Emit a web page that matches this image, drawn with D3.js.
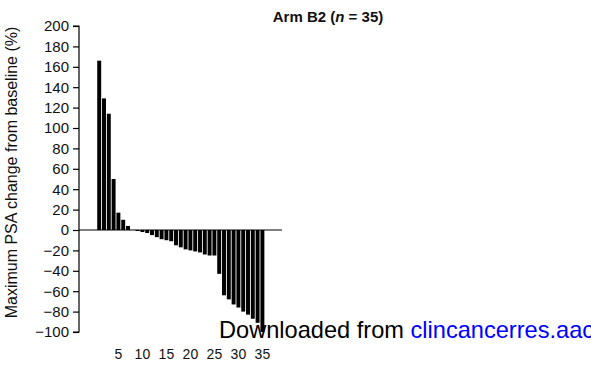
<!DOCTYPE html>
<html>
<head>
<meta charset="utf-8">
<script src="https://cdn.jsdelivr.net/npm/d3@7"></script>
<style>
  html, body { margin: 0; padding: 0; background: #fff; }
  svg { display: block; font-family: "Liberation Sans", Arial, Helvetica, sans-serif; }
</style>
</head>
<body>
<svg id="chart" width="591" height="365"></svg>
<script>
// Data
const patients = d3.range(1, 36);
const psaChange = [166, 129, 114, 50, 17, 10, 4, 0, -1, -2, -3, -5, -7, -9, -10, -11, -15, -17, -19, -20, -21, -22, -24, -25, -25, -43, -64, -68, -73, -76, -80, -83, -87, -91, -100];
const yTicks = [200, 180, 160, 140, 120, 100, 80, 60, 40, 20, 0, -20, -40, -60, -80, -100];
const xTickLabels = [5, 10, 15, 20, 25, 30, 35];

const svg = d3.select("#chart");

const x = d3.scaleBand().domain(patients).range([96.8, 264.8]).paddingInner(0.18).paddingOuter(0.09);
const y = d3.scaleLinear().domain([-100, 200]).range([332, 26]);

const axisX = 79;

// Y axis
const yAxis = d3.axisLeft(y).tickValues(yTicks).tickSize(6).tickPadding(4)
  .tickFormat(d => d < 0 ? "\u2212" + Math.abs(d) : d);
const gy = svg.append("g").attr("transform", `translate(${axisX},0)`).call(yAxis);
gy.select(".domain").attr("stroke", "#000").attr("stroke-width", 1.2).attr("d", `M-6,${y(200)}H0V${y(-100)}H-6`);
gy.selectAll(".tick line").attr("stroke", "#000").attr("stroke-width", 1.2);
gy.selectAll(".tick text").attr("fill", "#111").style("font-size", "15px").style("font-family", "'Liberation Sans', Arial, sans-serif");

// Bars
svg.append("g").selectAll("rect").data(patients).join("rect")
  .attr("x", d => x(d))
  .attr("width", x.bandwidth())
  .attr("y", (d, i) => y(Math.max(0, psaChange[i])))
  .attr("height", (d, i) => Math.abs(y(psaChange[i]) - y(0)))
  .attr("fill", "#000");

// Zero line
svg.append("line")
  .attr("x1", axisX).attr("x2", 282)
  .attr("y1", y(0)).attr("y2", y(0))
  .attr("stroke", "#000").attr("stroke-width", 1.2);

// X tick labels
svg.append("g").selectAll("text").data(xTickLabels).join("text")
  .attr("x", d => x(d) + x.bandwidth() / 2)
  .attr("y", 359)
  .attr("text-anchor", "middle")
  .style("font-size", "14px")
  .attr("fill", "#111")
  .text(d => d);

// Y axis title
svg.append("text")
  .attr("transform", `translate(17,${(20 + 325) / 2}) rotate(-90)`)
  .attr("text-anchor", "middle")
  .style("font-size", "16px")
  .attr("fill", "#111")
  .text("Maximum PSA change from baseline (%)");

// Title
const title = svg.append("text")
  .attr("x", 328).attr("y", 22)
  .attr("text-anchor", "middle")
  .style("font-size", "15px")
  .style("font-weight", "bold")
  .attr("fill", "#111");
title.append("tspan").text("Arm B2 (");
title.append("tspan").style("font-style", "italic").text("n");
title.append("tspan").text(" = 35)");

// Watermark (cut off by the right edge, as in the reference)
const wm = svg.append("text")
  .attr("x", 219).attr("y", 338)
  .style("font-size", "23.6px")
  .attr("fill", "#000");
wm.append("tspan").text("Downloaded from ");
wm.append("tspan").attr("fill", "#0000ff").text("clincancerres.aacrjournals.org");
</script>
</body>
</html>
